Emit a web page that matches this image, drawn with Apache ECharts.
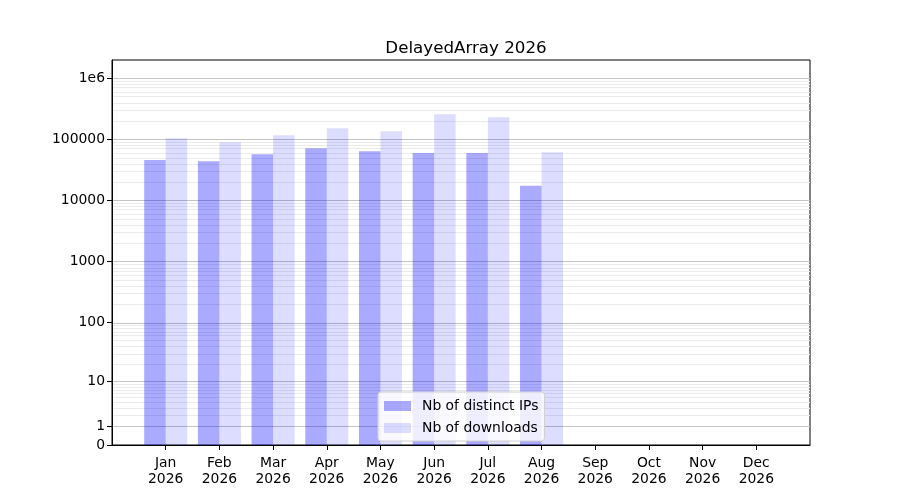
<!DOCTYPE html>
<html>
<head>
<meta charset="utf-8">
<script src="https://cdn.jsdelivr.net/npm/echarts@6/dist/echarts.min.js"></script>
<style>
  html, body { margin: 0; padding: 0; background: #fff; }
  #chart { width: 900px; height: 500px; }
</style>
</head>
<body>
<div id="chart"></div>
<script>
const months = ["Jan", "Feb", "Mar", "Apr", "May", "Jun", "Jul", "Aug", "Sep", "Oct", "Nov", "Dec"];
const year = "2026";
const distinctIPs = [46000, 44000, 57000, 72000, 64000, 60000, 60000, 17500];
const downloads = [105000, 90000, 117000, 153000, 136000, 258000, 230000, 62000];
const yTicks = [0, 1, 10, 100, 1000, 10000, 100000, 1000000];
const yTickLabels = ["0", "1", "10", "100", "1000", "10000", "100000", "1e6"];

// symlog-like scale: plot log10(1 + v)
const tr = (v) => Math.log10(1 + v);
const yMax = 6.30;
const font = "DejaVu Sans";

const tickPos = yTicks.map(tr);
const gridLines = [];
yTicks.forEach((t) => {
  gridLines.push({ yAxis: tr(t), lineStyle: { color: "#c4c4c4", width: 1, type: "solid" } });
});
for (let d = 0; d < 7; d++) {
  for (let k = 2; k <= 9; k++) {
    const p = tr(k * Math.pow(10, d));
    if (p < yMax) gridLines.push({ yAxis: p, lineStyle: { color: "#ebebeb", width: 1, type: "solid" } });
  }
}

const myChart = echarts.init(document.getElementById("chart"));
const option = {
  animation: false,
  title: {
    text: "DelayedArray 2026",
    left: 461,
    textAlign: "center",
    top: 35,
    textStyle: { fontFamily: font, fontSize: 16.7, fontWeight: "normal", color: "#000" },
  },
  grid: {
    left: 112, right: 90, top: 60, bottom: 55,
    show: true, borderColor: "#000", borderWidth: 1, backgroundColor: "transparent",
  },
  legend: {
    left: 378, top: 392,
    orient: "vertical",
    icon: "rect",
    itemWidth: 27, itemHeight: 10, itemGap: 8,
    padding: [7, 6, 6, 6],
    backgroundColor: "rgba(255,255,255,0.8)",
    borderColor: "#d0d0d0", borderWidth: 1, borderRadius: 3,
    z: 10,
    textStyle: { fontFamily: font, fontSize: 13.9, color: "#000", padding: [0, 0, 0, 6] },
    data: ["Nb of distinct IPs", "Nb of downloads"],
  },
  xAxis: {
    type: "value",
    min: 0, max: 13, interval: 1,
    axisLine: { lineStyle: { color: "#000" } },
    axisTick: { show: true, length: 5, lineStyle: { color: "#000" }, customValues: months.map((m, i) => i + 1) },
    axisLabel: {
      customValues: months.map((m, i) => i + 1),
      formatter: (v) => (v >= 1 && v <= 12 ? months[Math.round(v) - 1] + "\n" + year : ""),
      fontFamily: font, fontSize: 13.9, color: "#000", lineHeight: 16, margin: 10,
    },
    splitLine: { show: false },
  },
  yAxis: {
    type: "value",
    min: 0, max: yMax,
    axisLine: { show: true, lineStyle: { color: "#000" } },
    axisTick: { show: true, length: 5, lineStyle: { color: "#000" }, customValues: tickPos },
    axisLabel: {
      customValues: tickPos,
      formatter: (v) => {
        const i = tickPos.findIndex((p) => Math.abs(p - v) < 1e-6);
        return i >= 0 ? yTickLabels[i] : "";
      },
      fontFamily: font, fontSize: 13.9, color: "#000", margin: 7,
    },
    splitLine: { show: false },
  },
  series: [
    {
      name: "grid",
      type: "line",
      data: [],
      z: 0,
      silent: true,
      markLine: { symbol: "none", silent: true, z: 0, label: { show: false }, data: gridLines, animation: false },
    },
    {
      name: "Nb of distinct IPs",
      type: "bar",
      z: 3,
      barWidth: 21.5,
      barGap: "0%",
      itemStyle: { color: "rgba(0,0,255,0.333)" },
      data: distinctIPs.map((v, i) => [i + 1, tr(v)]),
    },
    {
      name: "Nb of downloads",
      type: "bar",
      z: 3,
      barWidth: 21.5,
      barGap: "0%",
      itemStyle: { color: "rgba(0,0,255,0.133)" },
      data: downloads.map((v, i) => [i + 1, tr(v)]),
    },
  ],
};
myChart.setOption(option);
window.addEventListener("resize", () => {
  myChart.resize();
});
</script>
</body>
</html>
